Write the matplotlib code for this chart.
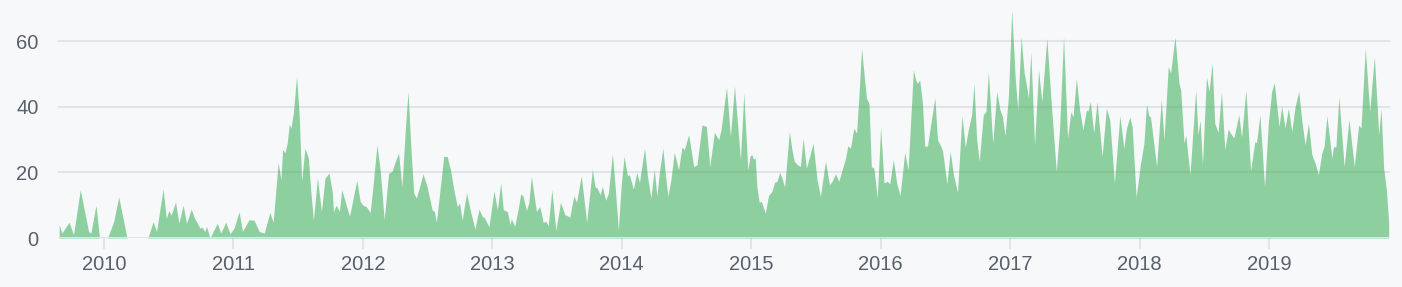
import matplotlib
matplotlib.use("Agg")
import matplotlib.pyplot as plt

# ------------------------------
# Data (weekly commits; x in decimal years)
# ------------------------------
weeks = [
    2009.654, 2009.674, 2009.731, 2009.765, 2009.817, 2009.881, 2009.899, 2009.938, 2009.966,
    2010.028, 2010.075, 2010.114, 2010.178, 2010.339, 2010.380, 2010.406, 2010.457, 2010.481,
    2010.501, 2010.519, 2010.553, 2010.579, 2010.612, 2010.638, 2010.674, 2010.700, 2010.721,
    2010.742, 2010.760, 2010.778, 2010.793, 2010.819, 2010.850, 2010.876, 2010.902, 2010.941,
    2010.974, 2011.005, 2011.044, 2011.070, 2011.121, 2011.160, 2011.199, 2011.238, 2011.282,
    2011.307, 2011.346, 2011.367, 2011.380, 2011.398, 2011.416, 2011.432, 2011.444, 2011.463,
    2011.488, 2011.509, 2011.527, 2011.553, 2011.579, 2011.597, 2011.618, 2011.649, 2011.680,
    2011.708, 2011.739, 2011.765, 2011.773, 2011.793, 2011.819, 2011.837, 2011.863, 2011.897,
    2011.928, 2011.953, 2011.979, 2012.000, 2012.026, 2012.057, 2012.078, 2012.109, 2012.134,
    2012.165, 2012.199, 2012.225, 2012.251, 2012.276, 2012.302, 2012.328, 2012.349, 2012.372,
    2012.393, 2012.413, 2012.439, 2012.465, 2012.496, 2012.535, 2012.553, 2012.568, 2012.599,
    2012.625, 2012.651, 2012.677, 2012.703, 2012.729, 2012.747, 2012.767, 2012.801, 2012.832,
    2012.866, 2012.897, 2012.922, 2012.941, 2012.974, 2013.013, 2013.039, 2013.065, 2013.085,
    2013.116, 2013.137, 2013.147, 2013.173, 2013.199, 2013.220, 2013.238, 2013.264, 2013.282,
    2013.302, 2013.320, 2013.341, 2013.367, 2013.393, 2013.413, 2013.432, 2013.460, 2013.491,
    2013.527, 2013.561, 2013.599, 2013.630, 2013.651, 2013.687, 2013.729, 2013.773, 2013.793,
    2013.811, 2013.832, 2013.850, 2013.876, 2013.897, 2013.928, 2013.951, 2013.974, 2013.995,
    2014.018, 2014.044, 2014.059, 2014.090, 2014.116, 2014.137, 2014.176, 2014.199, 2014.225,
    2014.251, 2014.271, 2014.292, 2014.318, 2014.336, 2014.357, 2014.380, 2014.406, 2014.439,
    2014.465, 2014.483, 2014.517, 2014.556, 2014.581, 2014.620, 2014.654, 2014.680, 2014.716,
    2014.749, 2014.767, 2014.809, 2014.840, 2014.871, 2014.917, 2014.943, 2014.974, 2014.992,
    2015.005, 2015.018, 2015.031, 2015.044, 2015.062, 2015.078, 2015.109, 2015.134, 2015.160,
    2015.181, 2015.199, 2015.220, 2015.238, 2015.258, 2015.295, 2015.315, 2015.333, 2015.359,
    2015.380, 2015.401, 2015.426, 2015.452, 2015.478, 2015.509, 2015.535, 2015.574, 2015.605,
    2015.625, 2015.651, 2015.677, 2015.703, 2015.729, 2015.747, 2015.767, 2015.793, 2015.814,
    2015.832, 2015.853, 2015.871, 2015.891, 2015.910, 2015.928, 2015.948, 2015.974, 2016.000,
    2016.026, 2016.052, 2016.070, 2016.098, 2016.124, 2016.150, 2016.186, 2016.212, 2016.253,
    2016.271, 2016.284, 2016.302, 2016.323, 2016.341, 2016.362, 2016.393, 2016.419, 2016.439,
    2016.460, 2016.478, 2016.512, 2016.537, 2016.563, 2016.594, 2016.628, 2016.654, 2016.677,
    2016.703, 2016.721, 2016.742, 2016.762, 2016.793, 2016.814, 2016.832, 2016.866, 2016.897,
    2016.922, 2016.941, 2016.961, 2016.987, 2017.013, 2017.039, 2017.059, 2017.085, 2017.109,
    2017.124, 2017.142, 2017.160, 2017.189, 2017.220, 2017.245, 2017.284, 2017.318, 2017.357,
    2017.382, 2017.413, 2017.444, 2017.470, 2017.486, 2017.512, 2017.537, 2017.563, 2017.589,
    2017.601, 2017.620, 2017.646, 2017.672, 2017.711, 2017.744, 2017.770, 2017.806, 2017.848,
    2017.879, 2017.899, 2017.925, 2017.943, 2017.974, 2018.008, 2018.034, 2018.054, 2018.072,
    2018.085, 2018.132, 2018.168, 2018.189, 2018.222, 2018.240, 2018.274, 2018.305, 2018.318,
    2018.344, 2018.357, 2018.390, 2018.434, 2018.452, 2018.468, 2018.486, 2018.517, 2018.537,
    2018.561, 2018.581, 2018.607, 2018.633, 2018.659, 2018.685, 2018.711, 2018.729, 2018.767,
    2018.788, 2018.822, 2018.858, 2018.891, 2018.904, 2018.930, 2018.966, 2018.995, 2019.021,
    2019.041, 2019.078, 2019.098, 2019.124, 2019.150, 2019.176, 2019.202, 2019.230, 2019.253,
    2019.279, 2019.305, 2019.331, 2019.357, 2019.382, 2019.408, 2019.426, 2019.447, 2019.486,
    2019.499, 2019.517, 2019.540, 2019.581, 2019.618, 2019.659, 2019.693, 2019.711, 2019.744,
    2019.778, 2019.814, 2019.848, 2019.866, 2019.886, 2019.907, 2019.925,
]

commits = [
    4.1, 1.5, 4.8, 1.0, 14.7, 2.0, 1.5, 10, 0,
    0, 5, 12.5, 0, 0, 5, 2, 15, 6,
    8.3, 7, 11, 4.5, 10, 4.5, 8.8, 6, 4.5,
    3, 3.3, 2, 3.5, 0, 2.5, 4.5, 1.5, 4.8,
    1.3, 3, 8, 2, 5.6, 5.4, 2, 1.5, 7.8,
    4.8, 23, 17.8, 27, 26, 29, 34.7, 33.5, 38,
    49.4, 37, 17.3, 27.4, 24.4, 14.7, 5.4, 18.3, 8.1,
    18.3, 19.8, 13.7, 8, 10, 8.1, 14.7, 11.2, 6.6,
    12.7, 17.6, 11.2, 10, 9.6, 7.8, 15.7, 28.4, 20.8,
    5.6, 19.8, 20.3, 23.4, 25.9, 15.7, 33, 44.7, 26.9,
    13.7, 12.2, 15.7, 19.6, 15.7, 8.6, 8.1, 4.8, 15.7,
    24.9, 24.9, 20.8, 14.7, 9.6, 10.7, 5.4, 13.7, 8.1,
    2.7, 8.8, 6.6, 6.1, 3.4, 14.4, 8.6, 16.8, 8.6,
    8.1, 4.1, 5.8, 3.6, 8.6, 13.5, 12.7, 8.4, 10.7,
    18.8, 13.7, 8.1, 9.6, 4.8, 5.1, 3.8, 14.7, 2.3,
    10.9, 7.1, 6.4, 12.9, 10.9, 19, 4.8, 21, 15.7,
    15.2, 13.2, 15.7, 11.5, 13.7, 25.7, 14.7, 2.5, 15.7,
    24.9, 19, 19.3, 14.9, 20, 17, 27.4, 18.8, 12.2,
    21, 12.9, 20.3, 27.4, 19.8, 12.7, 17.8, 26.1, 20.8,
    27.7, 26.9, 31.5, 21.8, 22.3, 34.5, 34, 21.8, 32.2,
    30, 33, 46, 31, 46.4, 23.9, 44.2, 20.8, 25.1,
    25.4, 24.1, 24.4, 15.7, 10.9, 11.2, 7.6, 13, 14.2,
    17, 17.3, 20, 18.3, 15.5, 32.5, 26.9, 23.4, 22.3,
    21.8, 30.5, 21.3, 24.9, 28.9, 17.8, 12.7, 23.4, 16.2,
    17.3, 19.6, 17.3, 20.8, 24.4, 28.1, 27.4, 33.5, 32,
    43.1, 57.9, 50.3, 42.6, 41.1, 21.8, 21.3, 12.2, 33.8,
    16.8, 17.3, 16.5, 23.9, 16.8, 12.9, 26.1, 20.8, 51.3,
    48.2, 47.2, 48.2, 41.1, 27.9, 28.1, 36.2, 42.8, 30,
    28.4, 26.7, 16.5, 26.4, 19.3, 13.9, 37.3, 27.7, 33,
    37.6, 47.2, 30, 23.4, 37.6, 38.6, 50.8, 28.9, 44.7,
    39.1, 37.1, 31.2, 43.1, 69.5, 49.2, 39.1, 61.4, 50.3,
    47.2, 42.6, 56.9, 28.4, 51.3, 41.6, 60.9, 41.1, 20.3,
    33, 61.4, 30.5, 38.6, 36.9, 48.7, 39.1, 33, 39.1,
    38.6, 41.6, 32, 41.6, 24.9, 39.6, 36, 16.8, 37.3,
    27.4, 33.5, 36.9, 34, 12.5, 22.8, 28.9, 40.9, 37.3,
    36.9, 21.8, 42.3, 30, 52.3, 50.3, 61.4, 47.2, 45.2,
    28.9, 31.5, 19.3, 45.2, 31.5, 36, 22.3, 49.2, 44.7,
    53.5, 35, 32.2, 44.7, 26.9, 33.2, 31.5, 30.5, 37.6,
    30.8, 45.2, 20.6, 29.4, 29.1, 37.6, 15.5, 35, 44.7,
    47.4, 34, 40.3, 33.5, 39.6, 32.5, 40.1, 44.7, 36,
    28.4, 35, 25.4, 22.8, 19.3, 25.9, 27.9, 37.3, 24.4,
    27.9, 27.7, 43.1, 21.8, 36.2, 21.8, 34.5, 33.5, 57.9,
    38.6, 55.3, 31.5, 39.6, 21.3, 14.7, 4.6,
]

year_ticks = [2010, 2011, 2012, 2013, 2014, 2015, 2016, 2017, 2018, 2019]
year_labels = [str(y) for y in year_ticks]
y_ticks = [0, 20, 40, 60]

# ------------------------------
# Style
# ------------------------------
BG = "#f6f8fa"
GRID = "#e1e4e8"
TEXT = "#586069"
GREEN = "#28a745"

plt.rcParams["font.family"] = ["Liberation Sans", "DejaVu Sans"]

fig = plt.figure(figsize=(14.02, 2.87), dpi=100, facecolor=BG)
ax = fig.add_axes([58 / 1402, 1 - 238 / 287, (1390 - 58) / 1402, (238 - 2) / 287])
ax.set_facecolor(BG)

ax.fill_between(weeks, commits, 0, color=GREEN, alpha=0.5, linewidth=0, zorder=3)

ax.set_xlim(2009.645, 2019.935)
ax.set_ylim(0, 72)

ax.set_yticks(y_ticks)
ax.set_xticks(year_ticks)
ax.set_xticklabels(year_labels)

for v in y_ticks[1:]:
    ax.axhline(v, color=GRID, linewidth=1.5, zorder=1)
ax.axhline(0, color=GRID, linewidth=2.2, zorder=4)

for s in ax.spines.values():
    s.set_visible(False)

ax.tick_params(axis="y", length=0, pad=14, labelsize=14.5, labelcolor=TEXT)
ax.tick_params(axis="x", length=8, width=1.4, color=GRID, pad=4,
               labelsize=14.5, labelcolor=TEXT)

fig.savefig("out.png", dpi=100, facecolor=BG)
